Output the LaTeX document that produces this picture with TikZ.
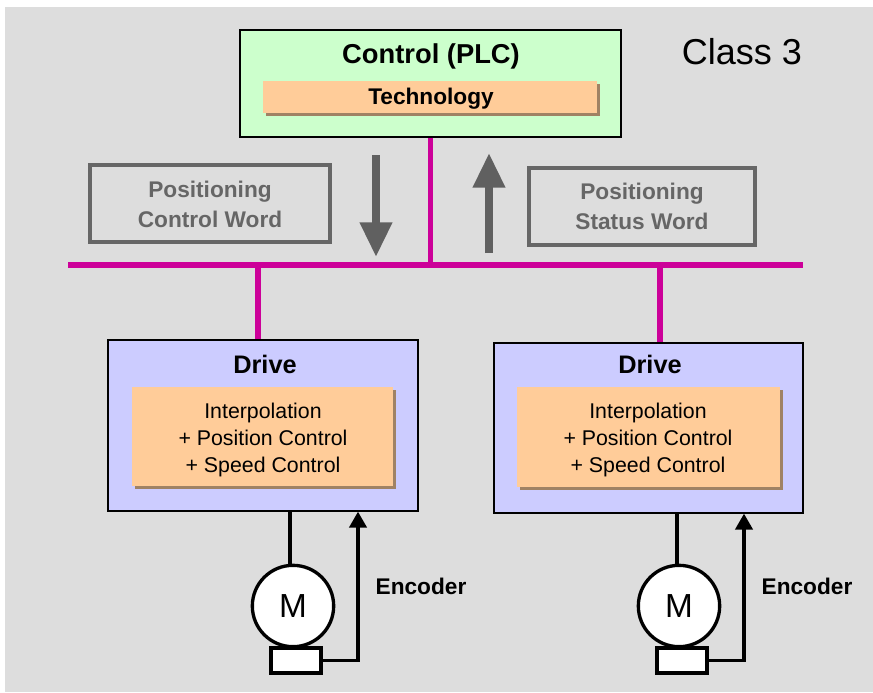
\documentclass[tikz,border=0pt]{standalone}
\usepackage{fontspec}
\setmainfont{Liberation Sans}
\usetikzlibrary{arrows.meta,fit,shadows,calc}
\definecolor{bg}{HTML}{DDDDDD}
\definecolor{plcgreen}{HTML}{CCFFCC}
\definecolor{drivefill}{HTML}{CCCCFF}
\definecolor{techfill}{HTML}{FFCC99}
\definecolor{shadowc}{RGB}{160,130,100}
\definecolor{busc}{HTML}{CC0099}
\definecolor{wordgray}{HTML}{666666}
\definecolor{arrowgray}{HTML}{606060}
\tikzset{
  mainbox/.style={draw=black, line width=1pt, inner sep=0pt},
  techbox/.style={fill=techfill, inner sep=0pt,
    drop shadow={shadow xshift=2.2pt, shadow yshift=-2.2pt, fill=shadowc, opacity=1}},
  wordbox/.style={draw=wordgray, line width=3pt, inner sep=0pt},
  bus/.style={draw=busc, line width=3.8pt},
  blockarrow/.style={draw=arrowgray, line width=6pt, -{Triangle[width=23pt,length=26pt]}},
  wire/.style={draw=black, line width=2.5pt},
  encarrow/.style={draw=black, line width=2.5pt, -{Triangle[width=13pt,length=12pt]}},
  motorc/.style={circle, draw=black, line width=2.5pt, fill=white, minimum size=61pt, inner sep=0pt,
      font=\fontsize{25pt}{28pt}\selectfont},
  encbox/.style={draw=black, line width=2.5pt, fill=white, inner sep=0pt},
}
\begin{document}
\begin{tikzpicture}[x=0.75pt,y=-0.75pt]
\useasboundingbox (0,0) rectangle (873,692);
\fill[bg] (5,7) rectangle (873,692);

% Control (PLC)
\node[mainbox, fill=plcgreen, fit={(240,30)(621,137)}] (plc) {};
\node[font=\fontsize{20.5pt}{24pt}\selectfont\bfseries] (plctitle) at (431,56) {Control (PLC)};
\node[techbox, fit={(263,81)(597,113)}] (tech) {};
\node[font=\fontsize{17pt}{20pt}\selectfont\bfseries] (techtxt) at (431,99) {Technology};

% Class label
\node[font=\fontsize{27pt}{30pt}\selectfont] (class) at (742,52) {Class 3};

% Bus
\coordinate (busL) at (68,265);
\coordinate (busR) at (803,265);
\draw[bus] (busL) -- (busR);
\draw[bus] (plc.south) -- (plc.south |- busL);

% Positioning words
\node[wordbox, fit={(90,165)(330,242)}] (pcw) {};
\node[text=wordgray, align=center, font=\fontsize{17pt}{22.5pt}\selectfont\bfseries] (pcwtxt) at (210,204) {Positioning\\Control Word};
\node[wordbox, fit={(529,168)(755,245)}] (psw) {};
\node[text=wordgray, align=center, font=\fontsize{17pt}{22.5pt}\selectfont\bfseries] (pswtxt) at (642,206) {Positioning\\Status Word};

% Block arrows
\coordinate (dnTop) at (376,155);
\coordinate (dnTip) at (376,257);
\coordinate (upBot) at (489,253);
\coordinate (upTip) at (489,153);
\draw[blockarrow] (dnTop) -- (dnTip);
\draw[blockarrow] (upBot) -- (upTip);

% Drives
\node[mainbox, fill=drivefill, fit={(108,340)(418,511)}] (drive1) {};
\node[font=\fontsize{19pt}{22pt}\selectfont\bfseries] (d1title) at (265,364) {Drive};
\node[techbox, fit={(132,387)(393,486)}] (ctrl1) {};
\node[align=center, font=\fontsize{16pt}{20.6pt}\selectfont] (ctrl1txt) at (263,440) {Interpolation\\+ Position Control\\+ Speed Control};

\node[mainbox, fill=drivefill, fit={(494,343)(803,513)}] (drive2) {};
\node[font=\fontsize{19pt}{22pt}\selectfont\bfseries] (d2title) at (650,364) {Drive};
\node[techbox, fit={(517,387)(780,487)}] (ctrl2) {};
\node[align=center, font=\fontsize{16pt}{20.6pt}\selectfont] (ctrl2txt) at (648,440) {Interpolation\\+ Position Control\\+ Speed Control};

% Bus drops
\coordinate (drop1) at (258,265);
\coordinate (drop2) at (660,265);
\draw[bus] (drop1) -- (drop1 |- drive1.north);
\draw[bus] (drop2) -- (drop2 |- drive2.north);

% Motors
\node[motorc] (motor1) at (293,606) {M};
\node[encbox, fit={(271,648)(321,673)}] (enc1) {};
\node[motorc] (motor2) at (679,606) {M};
\node[encbox, fit={(657,648)(707,673)}] (enc2) {};

\coordinate (m1x) at (290,0);
\coordinate (m2x) at (677,0);
\coordinate (e1x) at (358,0);
\coordinate (e2x) at (744,0);
\draw[wire] (m1x |- drive1.south) -- (m1x |- motor1.north);
\draw[wire] (m2x |- drive2.south) -- (m2x |- motor2.north);
\draw[encarrow] (enc1.east) -| (e1x |- drive1.south);
\draw[encarrow] (enc2.east) -| (e2x |- drive2.south);

\node[font=\fontsize{17pt}{20pt}\selectfont\bfseries] (enc1lbl) at (421,586) {Encoder};
\node[font=\fontsize{17pt}{20pt}\selectfont\bfseries] (enc2lbl) at (807,586) {Encoder};
\end{tikzpicture}
\end{document}
